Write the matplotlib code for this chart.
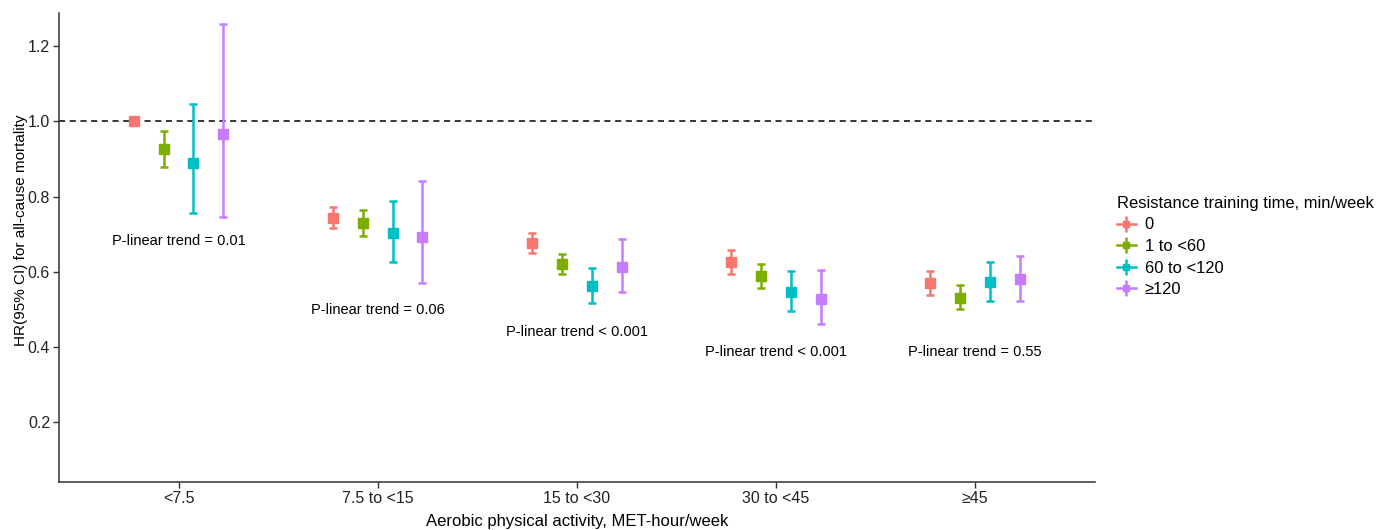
import numpy as np
import matplotlib.pyplot as plt
from matplotlib.lines import Line2D
from matplotlib.legend_handler import HandlerTuple

plt.rcParams['font.family'] = ['Liberation Sans', 'DejaVu Sans']

# Aerobic activity categories (x axis)
categories = ['<7.5', '7.5 to <15', '15 to <30', '30 to <45', '≥45']

# Resistance training groups (legend)
groups = ['0', '1 to <60', '60 to <120', '≥120']
colors = ['#F8766D', '#7CAE00', '#00BFC4', '#C77CFF']

# HR, lower and upper CI per resistance group, across the aerobic categories
hr_0 = [1.000, 0.744, 0.677, 0.625, 0.569]
lo_0 = [1.000, 0.716, 0.651, 0.594, 0.538]
hi_0 = [1.000, 0.772, 0.702, 0.659, 0.602]

hr_1 = [0.925, 0.729, 0.621, 0.588, 0.531]
lo_1 = [0.879, 0.694, 0.594, 0.556, 0.500]
hi_1 = [0.973, 0.764, 0.648, 0.620, 0.564]

hr_2 = [0.888, 0.703, 0.563, 0.547, 0.572]
lo_2 = [0.755, 0.626, 0.518, 0.497, 0.522]
hi_2 = [1.045, 0.788, 0.611, 0.601, 0.625]

hr_3 = [0.967, 0.693, 0.612, 0.528, 0.580]
lo_3 = [0.746, 0.571, 0.545, 0.462, 0.522]
hi_3 = [1.258, 0.840, 0.687, 0.604, 0.643]

# P-trend labels and their heights
trend_labels = ['P-linear trend = 0.01', 'P-linear trend = 0.06',
                'P-linear trend < 0.001', 'P-linear trend < 0.001',
                'P-linear trend = 0.55']
trend_y = [0.681, 0.498, 0.440, 0.386, 0.386]

hr = [hr_0, hr_1, hr_2, hr_3]
lo = [lo_0, lo_1, lo_2, lo_3]
hi = [hi_0, hi_1, hi_2, hi_3]

fig = plt.figure(figsize=(13.89, 5.30), dpi=100)
ax = fig.add_axes([0.0425, 0.091, 0.7455, 0.884])

x = np.arange(1, len(categories) + 1)
offsets = [-0.225, -0.075, 0.075, 0.225]  # dodge within each category

ax.axhline(1.0, color='black', linestyle=(0, (4, 3)), linewidth=1.1, zorder=1)

handles = []
for i in range(len(groups)):
    h = np.array(hr[i])
    err = [h - np.array(lo[i]), np.array(hi[i]) - h]
    ax.errorbar(x + offsets[i], h, yerr=err, fmt='s', color=colors[i],
                markersize=7, elinewidth=1.8, capsize=3, capthick=1.8, zorder=3)
    # legend key: cross (horizontal line + vertical bar) with a small square
    handles.append((Line2D([], [], color=colors[i], lw=1.8, marker='|',
                           markersize=11, markeredgewidth=1.8),
                    Line2D([], [], color=colors[i], marker='s', markersize=4.5,
                           linestyle='none')))

for xi, lab, yi in zip(x, trend_labels, trend_y):
    ax.text(xi, yi, lab, ha='center', va='center', fontsize=10.5, color='black')

ax.set_xlim(0.4, 5.6)
ax.set_ylim(0.042, 1.287)
ax.set_xticks(x)
ax.set_xticklabels(categories)
ax.set_yticks([0.2, 0.4, 0.6, 0.8, 1.0, 1.2])
ax.set_yticklabels(['0.2', '0.4', '0.6', '0.8', '1.0', '1.2'])
ax.tick_params(axis='both', labelsize=11.5, colors='#333333', length=4, width=1,
               direction='out', pad=2.5)
for lbl in ax.get_xticklabels() + ax.get_yticklabels():
    lbl.set_color('#222222')

for s in ['top', 'right']:
    ax.spines[s].set_visible(False)
for s in ['left', 'bottom']:
    ax.spines[s].set_color('#333333')
    ax.spines[s].set_linewidth(1.1)

ax.set_xlabel('Aerobic physical activity, MET-hour/week', fontsize=12, labelpad=6)
ax.set_ylabel('HR(95% CI) for all-cause mortality', fontsize=11)
ax.yaxis.set_label_coords(-0.030, 0.537)

leg = fig.legend(handles, groups, handler_map={tuple: HandlerTuple(ndivide=1)},
                 title='Resistance training time, min/week', loc='center left',
                 bbox_to_anchor=(0.804, 0.535), frameon=False, fontsize=11.9,
                 title_fontsize=11.9, handlelength=1.15, handletextpad=0.55,
                 labelspacing=0.4, borderpad=0, borderaxespad=0)
leg._legend_box.align = 'left'

fig.savefig('out.png', dpi=100)
